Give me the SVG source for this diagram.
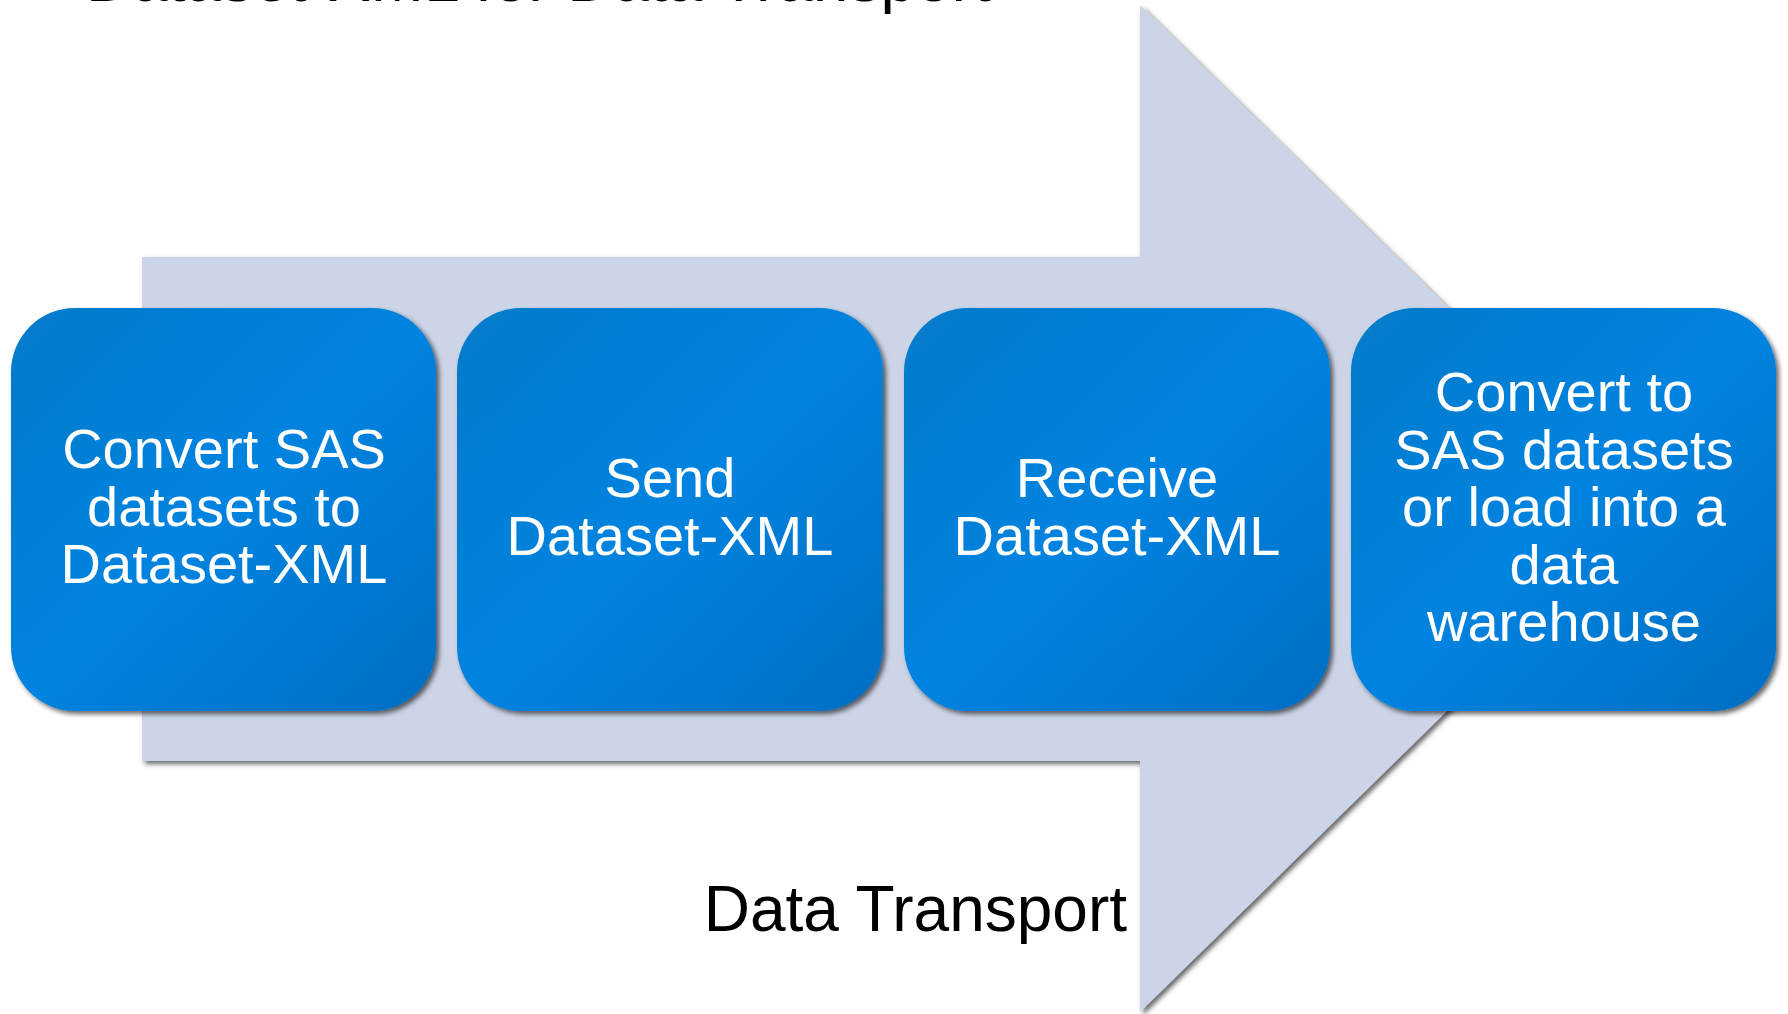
<svg xmlns="http://www.w3.org/2000/svg" width="1788" height="1014" viewBox="0 0 1788 1014">
<defs>
<style>
.box{fill:url(#bg);filter:url(#sh)}
.bt{font-family:"Liberation Sans",Arial,sans-serif;font-size:56px;fill:#fff;text-anchor:middle}
.lbl{font-family:"Liberation Sans",Arial,sans-serif;font-size:64px;fill:#000}
</style>
<linearGradient id="bg" x1="0" y1="0" x2="1" y2="1">
<stop offset="0" stop-color="#077AC9"/>
<stop offset="0.5" stop-color="#0283E0"/>
<stop offset="1" stop-color="#006EC2"/>
</linearGradient>
<filter id="sh" x="-5%" y="-5%" width="115%" height="115%">
<feGaussianBlur in="SourceAlpha" stdDeviation="2.5"/>
<feOffset dx="3" dy="3" result="b"/>
<feFlood flood-color="#000" flood-opacity="0.6"/>
<feComposite in2="b" operator="in"/>
<feMerge><feMergeNode/><feMergeNode in="SourceGraphic"/></feMerge>
</filter>
</defs>
<rect width="1788" height="1014" fill="#fff"/>
<text class="lbl" x="86" y="1" font-size="63.5" fill="#1a1a1a">Dataset-XML for Data Transport</text>
<g id="arrow">
<polygon points="142,257 1140,257 1140,5 1653,509 1140,1012 1140,761 142,761" fill="#CBD5E7" filter="url(#sh)"/>
</g>
<g id="connectors"></g>
<g id="n1">
<rect class="box" x="11" y="308" width="425" height="403" rx="64" ry="64"/>
<text class="bt" x="224" y="468">Convert SAS</text>
<text class="bt" x="224" y="526">datasets to</text>
<text class="bt" x="224" y="583">Dataset-XML</text>
</g>
<g id="n2">
<rect class="box" x="457" y="308" width="426" height="403" rx="64" ry="64"/>
<text class="bt" x="670" y="497">Send</text>
<text class="bt" x="670" y="555">Dataset-XML</text>
</g>
<g id="n3">
<rect class="box" x="904" y="308" width="426" height="403" rx="64" ry="64"/>
<text class="bt" x="1117" y="497">Receive</text>
<text class="bt" x="1117" y="555">Dataset-XML</text>
</g>
<g id="n4">
<rect class="box" x="1351" y="308" width="425" height="403" rx="64" ry="64"/>
<text class="bt" x="1564" y="411">Convert to</text>
<text class="bt" x="1564" y="468.5">SAS datasets</text>
<text class="bt" x="1564" y="526">or load into a</text>
<text class="bt" x="1564" y="583.5">data</text>
<text class="bt" x="1564" y="641">warehouse</text>
</g>
<text class="lbl" x="1127" y="931" text-anchor="end">Data Transport</text>
</svg>
